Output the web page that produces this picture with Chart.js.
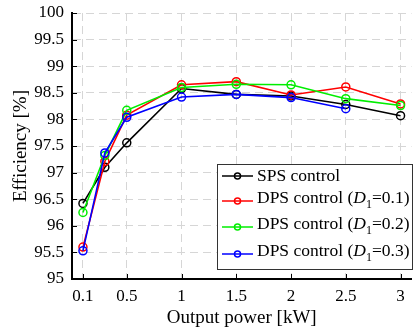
<!DOCTYPE html>
<html>
<head>
<meta charset="utf-8">
<script src="https://cdn.jsdelivr.net/npm/chart.js@4/dist/chart.umd.min.js"></script>
<style>
html,body{margin:0;padding:0;background:#fff;}
#wrap{width:417px;height:331px;position:relative;}
</style>
</head>
<body>
<div id="wrap"><canvas id="c" width="417" height="331"></canvas></div>
<script>
const outputPower = [0.1, 0.3, 0.5, 1, 1.5, 2, 2.5, 3];
const spsControl = [96.42, 97.10, 97.56, 98.58, 98.47, 98.44, 98.28, 98.07];
const dpsD01 = [95.60, 97.21, 98.08, 98.65, 98.71, 98.46, 98.61, 98.29];
const dpsD02 = [96.25, 97.32, 98.17, 98.60, 98.66, 98.65, 98.39, 98.26];
const dpsD03 = [95.53, 97.37, 98.04, 98.42, 98.47, 98.41, 98.20, null];
const seriesNames = ['SPS control', 'DPS control (D1=0.1)', 'DPS control (D1=0.2)', 'DPS control (D1=0.3)'];
const seriesColors = ['#000000', '#ff0000', '#00ee00', '#0000ff'];
const xTickValues = [0.1, 0.5, 1, 1.5, 2, 2.5, 3];
const yTickValues = [95, 95.5, 96, 96.5, 97, 97.5, 98, 98.5, 99, 99.5, 100];

const FONT = "'Liberation Serif', 'Times New Roman', serif";
const allSeries = [spsControl, dpsD01, dpsD02, dpsD03];

const datasets = allSeries.map((vals, i) => ({
  label: seriesNames[i],
  data: outputPower.map((x, j) => ({x: x, y: vals[j]})).filter(p => p.y !== null),
  borderColor: seriesColors[i],
  backgroundColor: seriesColors[i],
  pointBorderColor: seriesColors[i],
  pointBackgroundColor: 'rgba(0,0,0,0)',
  pointRadius: 4,
  pointBorderWidth: 1.5,
  borderWidth: 1.6,
  tension: 0,
  order: 4 - i
}));

const inwardTicks = {
  id: 'inwardTicks',
  afterDatasetsDraw(chart) {
    const ctx = chart.ctx, a = chart.chartArea;
    const xs = chart.scales.x, ys = chart.scales.y;
    ctx.save();
    ctx.strokeStyle = '#000';
    ctx.lineWidth = 1;
    ctx.beginPath();
    yTickValues.forEach(v => {
      const y = Math.round(ys.getPixelForValue(v)) + 0.5;
      ctx.moveTo(a.left, y); ctx.lineTo(a.left + 5, y);
    });
    xTickValues.forEach(v => {
      const x = Math.round(xs.getPixelForValue(v)) + 0.5;
      ctx.moveTo(x, a.bottom); ctx.lineTo(x, a.bottom - 5);
    });
    ctx.stroke();
    ctx.restore();
  }
};

const legendBox = {
  id: 'legendBox',
  afterDraw(chart) {
    const ctx = chart.ctx;
    const x0 = 217, y0 = 164, x1 = 413, y1 = 270;
    const lineY = [176, 201, 227, 254];
    ctx.save();
    ctx.fillStyle = '#fff';
    ctx.fillRect(x0, y0, x1 - x0, y1 - y0);
    ctx.strokeStyle = '#333';
    ctx.lineWidth = 1;
    ctx.strokeRect(x0 + 0.5, y0 + 0.5, x1 - x0 - 1, y1 - y0 - 1);
    chart.data.datasets.forEach((ds, i) => {
      const ly = lineY[i];
      ctx.strokeStyle = ds.borderColor;
      ctx.lineWidth = 1.5;
      ctx.beginPath();
      ctx.moveTo(222, ly); ctx.lineTo(253, ly);
      ctx.stroke();
      ctx.beginPath();
      ctx.arc(237.5, ly, 3, 0, Math.PI * 2);
      ctx.stroke();
      ctx.fillStyle = '#000';
      ctx.textBaseline = 'middle';
      const ty = i === 0 ? ly : ly - 3;
      const m = ds.label.match(/^(.*)\(D1=(.*)\)$/);
      let x = 257;
      const fs = '17.5px ';
      if (!m) {
        ctx.font = fs + FONT;
        ctx.fillText(ds.label, x, ty);
      } else {
        ctx.font = fs + FONT;
        const s1 = m[1] + '(';
        ctx.fillText(s1, x, ty); x += ctx.measureText(s1).width;
        ctx.font = 'italic ' + fs + FONT;
        ctx.fillText('D', x, ty); x += ctx.measureText('D').width;
        ctx.font = '12px ' + FONT;
        ctx.fillText('1', x, ty + 7); x += ctx.measureText('1').width;
        ctx.font = fs + FONT;
        ctx.fillText('=' + m[2] + ')', x, ty);
      }
    });
    ctx.restore();
  }
};

new Chart(document.getElementById('c'), {
  type: 'line',
  data: { datasets: datasets },
  options: {
    responsive: false,
    animation: false,
    devicePixelRatio: 1,
    layout: { padding: { top: 13, right: 2, left: 0, bottom: 0 } },
    plugins: { legend: { display: false }, tooltip: { enabled: false } },
    scales: {
      x: {
        type: 'linear',
        min: 0, max: 3.1,
        afterBuildTicks(scale) { scale.ticks = xTickValues.map(v => ({value: v})); },
        afterFit(scale) { scale.height = 52; scale.paddingLeft = 0; scale.paddingRight = 0; },
        ticks: { color: '#000', font: { family: FONT, size: 17 }, padding: 7, maxRotation: 0, autoSkip: false,
          callback: v => String(v) },
        grid: { color: '#d6d6d6', lineWidth: 1, drawTicks: false },
        border: { color: '#000', width: 2, dash: [8, 5] },
        title: { display: true, text: 'Output power [kW]', color: '#000', font: { family: FONT, size: 19 }, padding: { top: 0, bottom: 2 } }
      },
      y: {
        type: 'linear',
        min: 95, max: 100,
        afterBuildTicks(scale) { scale.ticks = yTickValues.map(v => ({value: v})); },
        afterFit(scale) { scale.width = 72; scale.paddingTop = 0; scale.paddingBottom = 0; },
        ticks: { color: '#000', font: { family: FONT, size: 17 }, padding: 8, autoSkip: false,
          callback: v => String(v) },
        grid: { color: '#d6d6d6', lineWidth: 1, drawTicks: false },
        border: { color: '#000', width: 2, dash: [8, 5] },
        title: { display: true, text: 'Efficiency [%]', color: '#000', font: { family: FONT, size: 19 }, padding: { top: 10, bottom: 0 } }
      }
    }
  },
  plugins: [inwardTicks, legendBox]
});
</script>
</body>
</html>
